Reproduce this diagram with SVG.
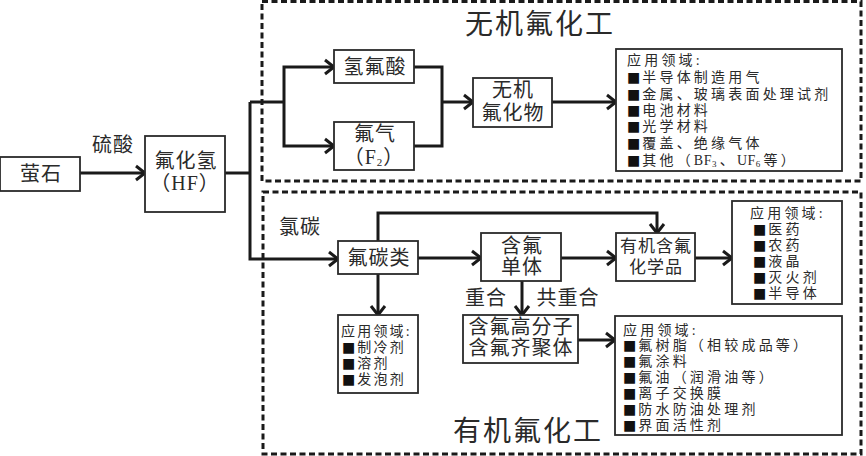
<svg xmlns="http://www.w3.org/2000/svg" width="866" height="456" viewBox="0 0 866 456">
<defs>
<style>
text{font-family:"Liberation Serif","Noto Sans CJK SC",serif;fill:#2a2a2a;dominant-baseline:central}
.n{font-size:20px;text-anchor:middle;letter-spacing:1px}
.t{font-size:28px;letter-spacing:2px}
.a{font-size:14px;letter-spacing:3.2px}
.s{font-size:14px;letter-spacing:2.2px}
.b{font-family:"DejaVu Sans",sans-serif;fill:#111;letter-spacing:2px}
.l{letter-spacing:0.5px}
.box{fill:#fff;stroke:#2a2a2a;stroke-width:1.8}
.dash{fill:none;stroke:#1a1a1a;stroke-width:3;stroke-dasharray:6 3.5}
.c{fill:none;stroke:#1a1a1a;stroke-width:3}
</style>
<marker id="ar" markerUnits="userSpaceOnUse" markerWidth="14" markerHeight="18" refX="11" refY="9" orient="auto">
<path d="M2,2 L11,9 L2,16" fill="none" stroke="#1a1a1a" stroke-width="3"/>
</marker>
</defs>
<rect width="866" height="456" fill="#fff"/>
<g id="regions">
<rect class="dash" x="262" y="1.5" width="599" height="179.5"/>
<rect class="dash" x="263" y="192" width="598" height="262"/>
<text class="t" x="465" y="24">无机氟化工</text>
<text class="t" x="453" y="431">有机氟化工</text>
</g>
<g id="connectors">
<path class="c" d="M80,173 H145" marker-end="url(#ar)"/>
<path class="c" d="M225,173 H250"/>
<path class="c" d="M250,102 V259 H338" marker-end="url(#ar)"/>
<path class="c" d="M250,102 H284"/>
<path class="c" d="M284,102 V67 H334" marker-end="url(#ar)"/>
<path class="c" d="M284,102 V146 H334" marker-end="url(#ar)"/>
<path class="c" d="M414,67 H442 V146 H414"/>
<path class="c" d="M442,102 H473" marker-end="url(#ar)"/>
<path class="c" d="M552,102 H616" marker-end="url(#ar)"/>
<path class="c" d="M378,241 V213 H657 V233" marker-end="url(#ar)"/>
<path class="c" d="M418,258 H481" marker-end="url(#ar)"/>
<path class="c" d="M561,258 H616" marker-end="url(#ar)"/>
<path class="c" d="M695,258 H732" marker-end="url(#ar)"/>
<path class="c" d="M378,274 V315" marker-end="url(#ar)"/>
<path class="c" d="M522,281 V315" marker-end="url(#ar)"/>
<path class="c" d="M578,340 H615" marker-end="url(#ar)"/>
<text class="n" x="113" y="145">硫酸</text>
<text class="n" x="300" y="227">氯碳</text>
<text class="n" x="486" y="298">重合</text>
<text class="n" x="568" y="298">共重合</text>
</g>
<g id="fluorite">
<rect class="box" x="0" y="157" width="80" height="34"/>
<text class="n" x="41" y="174">萤石</text>
</g>
<g id="hf">
<rect class="box" x="145" y="136" width="80" height="76"/>
<text class="n" x="186" y="161">氟化氢</text>
<text class="n" x="185" y="183">（HF）</text>
</g>
<g id="hydrofluoric-acid">
<rect class="box" x="334" y="50" width="80" height="33"/>
<text class="n" x="375" y="67">氢氟酸</text>
</g>
<g id="fluorine">
<rect class="box" x="334" y="122" width="80" height="48"/>
<text class="n" x="375" y="134">氟气</text>
<text class="n" x="374" y="157">（F<tspan font-size="11" dy="5">2</tspan><tspan dy="-5">）</tspan></text>
</g>
<g id="inorganic-fluoride">
<rect class="box" x="473" y="78" width="79" height="49"/>
<text class="n" x="513" y="90">无机</text>
<text class="n" x="513" y="113">氟化物</text>
</g>
<g id="inorganic-apps">
<rect class="box" x="616" y="49" width="226" height="122"/>
<text class="a" x="627" y="60">应用领域:</text>
<text class="a" x="627" y="77"><tspan class="b">■</tspan>半导体制造用气</text>
<text class="a" x="627" y="94"><tspan class="b">■</tspan>金属、玻璃表面处理试剂</text>
<text class="a" x="627" y="110"><tspan class="b">■</tspan>电池材料</text>
<text class="a" x="627" y="126"><tspan class="b">■</tspan>光学材料</text>
<text class="a" x="627" y="143"><tspan class="b">■</tspan>覆盖、绝缘气体</text>
<text class="a" x="627" y="160"><tspan class="b">■</tspan>其他（<tspan class="l">BF</tspan><tspan font-size="9" dy="4">3</tspan><tspan dy="-4">、</tspan><tspan class="l">UF</tspan><tspan font-size="9" dy="4">6</tspan><tspan dy="-4">等）</tspan></text>
</g>
<g id="fluorocarbons">
<rect class="box" x="338" y="241" width="80" height="33"/>
<text class="n" x="379" y="258">氟碳类</text>
</g>
<g id="fluorocarbon-apps">
<rect class="box" x="338" y="315" width="80" height="78"/>
<text class="s" x="341" y="331">应用领域:</text>
<text class="s" x="342" y="347"><tspan class="b">■</tspan>制冷剂</text>
<text class="s" x="342" y="363"><tspan class="b">■</tspan>溶剂</text>
<text class="s" x="342" y="379"><tspan class="b">■</tspan>发泡剂</text>
</g>
<g id="monomer">
<rect class="box" x="481" y="233" width="80" height="48"/>
<text class="n" x="522" y="246">含氟</text>
<text class="n" x="522" y="267">单体</text>
</g>
<g id="organic-chemicals">
<rect class="box" x="616" y="233" width="79" height="48"/>
<text class="n" x="656" y="246" style="font-size:17px">有机含氟</text>
<text class="n" x="656" y="267" style="font-size:17px">化学品</text>
</g>
<g id="organic-chem-apps">
<rect class="box" x="732" y="201" width="110" height="103"/>
<text class="a" x="750" y="213">应用领域:</text>
<text class="a" x="753" y="229"><tspan class="b">■</tspan>医药</text>
<text class="a" x="753" y="245"><tspan class="b">■</tspan>农药</text>
<text class="a" x="753" y="261"><tspan class="b">■</tspan>液晶</text>
<text class="a" x="753" y="277"><tspan class="b">■</tspan>灭火剂</text>
<text class="a" x="753" y="293"><tspan class="b">■</tspan>半导体</text>
</g>
<g id="polymer">
<rect class="box" x="463" y="315" width="115" height="48"/>
<text class="n" x="521" y="327">含氟高分子</text>
<text class="n" x="521" y="348">含氟齐聚体</text>
</g>
<g id="polymer-apps">
<rect class="box" x="615" y="316" width="227" height="119"/>
<text class="a" x="623" y="330">应用领域:</text>
<text class="a" x="623" y="345"><tspan class="b">■</tspan>氟树脂（相较成品等）</text>
<text class="a" x="623" y="361"><tspan class="b">■</tspan>氟涂料</text>
<text class="a" x="623" y="377"><tspan class="b">■</tspan>氟油（润滑油等）</text>
<text class="a" x="623" y="393"><tspan class="b">■</tspan>离子交换膜</text>
<text class="a" x="623" y="409"><tspan class="b">■</tspan>防水防油处理剂</text>
<text class="a" x="623" y="425"><tspan class="b">■</tspan>界面活性剂</text>
</g>
</svg>
